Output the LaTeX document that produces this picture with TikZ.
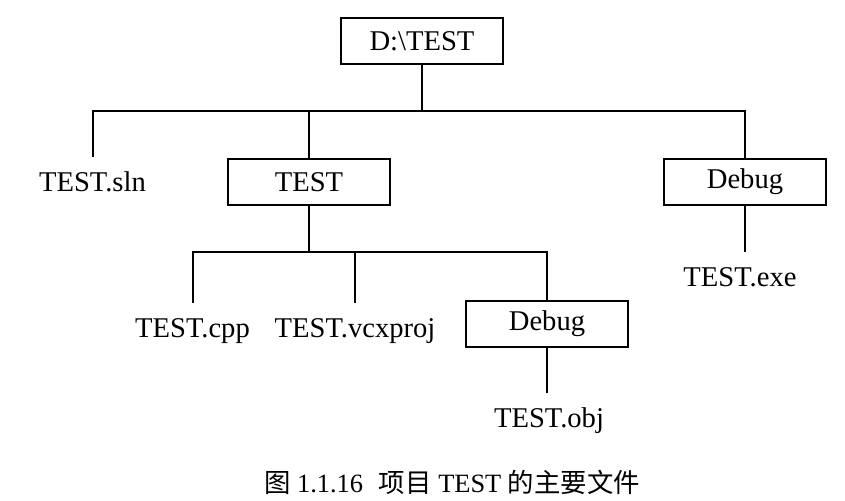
\documentclass[tikz,border=0pt]{standalone}
\usepackage{fontspec}
\setmainfont{Liberation Serif}
\newfontfamily\cjk{Noto Sans CJK SC}
\begin{document}
\begin{tikzpicture}[x=0.5pt,y=-0.5pt,line width=1pt,
  dirbox/.style={draw,minimum width=81pt,minimum height=23.25pt,inner sep=0pt,
    font=\fontsize{14.3}{17}\selectfont},
  filename/.style={inner sep=0pt,outer sep=8pt,text height=9.5pt,text depth=0pt,
    font=\fontsize{14.3}{17}\selectfont}]
\useasboundingbox (0,0) rectangle (845,500);

\node[dirbox] (root) at (422,41) {D:\textbackslash TEST};
\node[dirbox] (test) at (309,182) {TEST};
\node[dirbox] (dbg1) at (745,182) {Debug};
\node[dirbox] (dbg2) at (547,324) {Debug};

\node[filename] (sln) at (92.5,182) {TEST.sln};
\node[filename] (cpp) at (192.5,328) {TEST.cpp};
\node[filename] (vcx) at (355,328) {TEST.vcxproj};
\node[filename] (exe) at (740,277) {TEST.exe};
\node[filename] (obj) at (549,418) {TEST.obj};

\coordinate (bus1) at (0,111);
\coordinate (bus2) at (0,252);

\draw (root.south) -- (root.south |- bus1);
\draw (sln.north) -- (sln.north |- bus1) -- (dbg1.north |- bus1) -- (dbg1.north);
\draw (test.north) -- (test.north |- bus1);
\draw (test.south) -- (test.south |- bus2);
\draw (cpp.north) -- (cpp.north |- bus2) -- (dbg2.north |- bus2) -- (dbg2.north);
\draw (vcx.north) -- (vcx.north |- bus2);
\draw (dbg1.south) -- (dbg1.south |- exe.north);
\draw (dbg2.south) -- (dbg2.south |- obj.north);

\node[font=\fontsize{13.2}{16}\selectfont] (caption) at (452,482)
  {{\cjk 图} 1.1.16\hspace{0.6em}{\cjk 项目} TEST {\cjk 的主要文件}};

\end{tikzpicture}
\end{document}
